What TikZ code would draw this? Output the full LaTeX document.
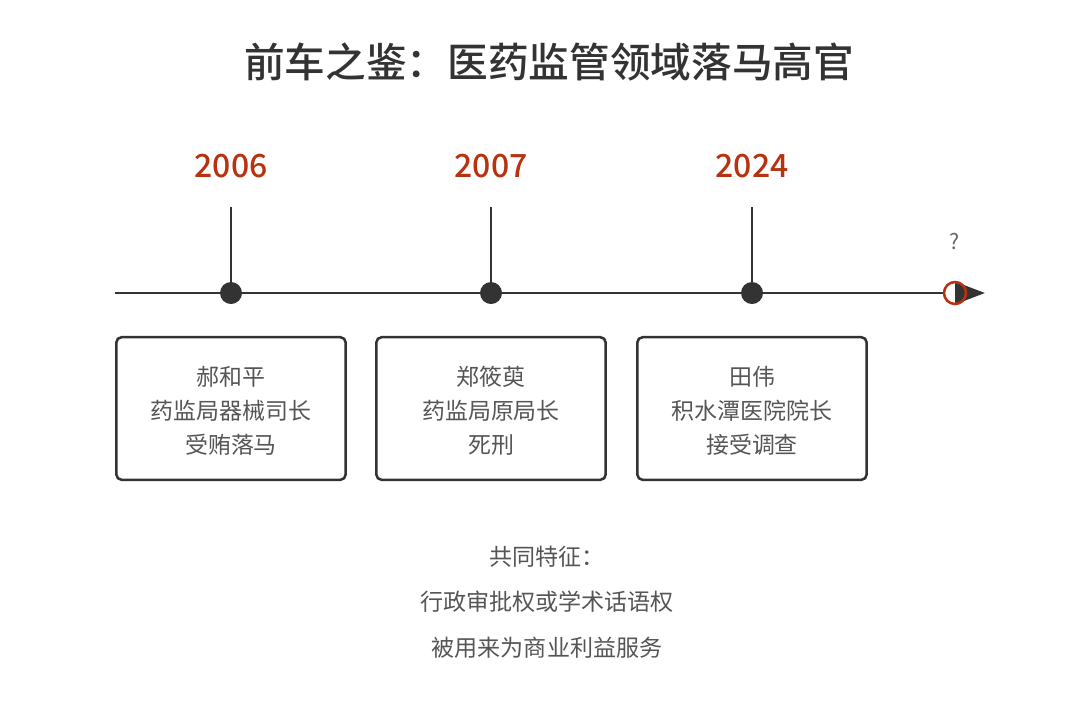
\documentclass[tikz,border=0pt]{standalone}
\usepackage{fontspec}
\setmainfont{Noto Sans CJK SC}
\newfontfamily\medfont{Noto Sans CJK SC Medium}
\usepackage{xcolor}
\usetikzlibrary{arrows.meta, positioning, calc}

\definecolor{inkdark}{HTML}{333333}
\definecolor{inkgray}{HTML}{555555}
\definecolor{yearred}{HTML}{B8320F}

\begin{document}
\begin{tikzpicture}[
    x=0.75pt, y=-0.75pt,
    >=Latex,
    year/.style={font=\fontsize{24}{28}\selectfont\medfont, text=yearred},
    dot/.style={circle, fill=inkdark, inner sep=0pt, minimum size=16.5pt},
    card/.style={
        draw=inkdark,
        line width=1.9pt,
        rounded corners=4pt,
        align=center,
        minimum width=172pt,
        minimum height=107pt,
        text=inkgray,
        font=\fontsize{17.2}{25.5}\selectfont
    },
    note/.style={align=center, text=inkgray, font=\fontsize{17.3}{34}\selectfont}
]
\useasboundingbox (0,0) rectangle (1080,719);

\node[font=\fontsize{30.5}{36}\selectfont\medfont, text=inkdark] (title) at (549,62) {前车之鉴：医药监管领域落马高官};

% years on the line
\node[year] (y2006) at (231,166) {2006};
\node[year] (y2007) at (491,166) {2007};
\node[year] (y2024) at (752,166) {2024};

\node[dot] (d2006) at (231,293) {};
\node[dot] (d2007) at (491,293) {};
\node[dot] (d2024) at (752,293) {};

\coordinate (lineStart) at (115,293);
\coordinate (lineTip) at (985,293);

\draw[inkdark, line width=2.2pt] (lineStart) -- (d2006) -- (d2007) -- (d2024) -- (955,293);
\foreach \y in {2006,2007,2024}
    \draw[inkdark, line width=2.2pt] (d\y |- 0,207) -- (d\y.center);

% open end of the line
\node[circle, fill=white, inner sep=0pt, minimum size=16.5pt] (endmark) at (955,293) {};
\draw[-{Triangle[length=22.5pt, width=16.5pt]}, inkdark, line width=2.2pt] (endmark.center) -- (lineTip);
\draw[yearred, line width=1.9pt] (endmark) circle[radius=11];
\node[text=inkgray!90, font=\fontsize{16}{18}\selectfont, above=39pt of endmark.center, anchor=center] (qmark) {?};

% event cards
\node[card] (c2006) at (231,408.5) {\\[-7pt]郝和平\\药监局器械司长\\受贿落马};
\node[card] (c2007) at (491,408.5) {\\[-7pt]郑筱萸\\药监局原局长\\死刑};
\node[card] (c2024) at (752,408.5) {\\[-7pt]田伟\\积水潭医院院长\\接受调查};

\node[note] (common) at (547,602) {共同特征：\\行政审批权或学术话语权\\被用来为商业利益服务};

\end{tikzpicture}
\end{document}
